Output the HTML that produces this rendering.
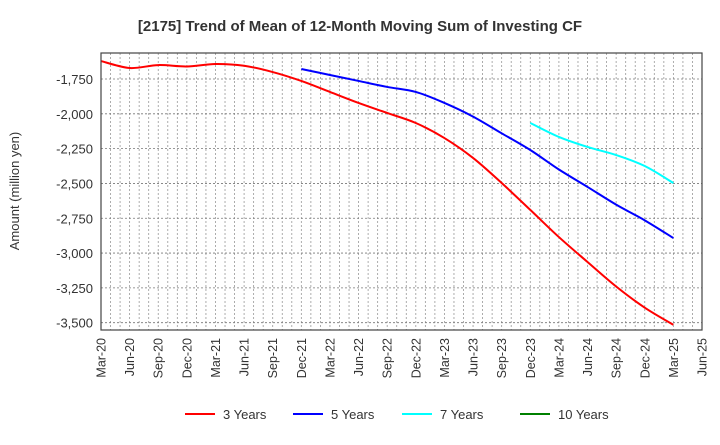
<!DOCTYPE html>
<html><head><meta charset="utf-8"><style>
body{margin:0;background:#fff;font-family:"Liberation Sans",sans-serif}
</style></head><body>
<svg id="c" width="720" height="440" xmlns="http://www.w3.org/2000/svg" font-family="Liberation Sans, sans-serif">
<text x="360" y="31" text-anchor="middle" font-size="15" font-weight="bold" fill="#333">[2175]  Trend of Mean of 12-Month Moving Sum of Investing CF</text>
<text transform="translate(19,191) rotate(-90)" text-anchor="middle" font-size="13" fill="#333">Amount (million yen)</text>
<g id="grid"></g><g id="series"></g><g id="axes"></g><g id="legend"></g>
</svg>
<script>
const xLabels=["Mar-20","Jun-20","Sep-20","Dec-20","Mar-21","Jun-21","Sep-21","Dec-21","Mar-22","Jun-22","Sep-22","Dec-22","Mar-23","Jun-23","Sep-23","Dec-23","Mar-24","Jun-24","Sep-24","Dec-24","Mar-25","Jun-25"];
const yTicks=[-1750,-2000,-2250,-2500,-2750,-3000,-3250,-3500];
const y3=[-1621,-1671,-1650,-1660,-1642,-1655,-1700,-1764,-1843,-1922,-1994,-2066,-2174,-2317,-2497,-2690,-2885,-3064,-3240,-3392,-3515];
const y5=[null,null,null,null,null,null,null,-1678,-1721,-1764,-1807,-1843,-1922,-2020,-2140,-2260,-2400,-2525,-2652,-2765,-2892];
const y7=[null,null,null,null,null,null,null,null,null,null,null,null,null,null,null,-2066,-2166,-2238,-2296,-2375,-2497];
const y10=[];
const seriesNames=["3 Years","5 Years","7 Years","10 Years"];
const colors=["#ff0000","#0000ff","#00ffff","#008000"];
const L=101,R=702,T=53,B=330;
const xs=q=>L+q*(R-L)/(xLabels.length-1);
const ys=v=>79+(-1750-v)*0.13926;
const NS="http://www.w3.org/2000/svg";
function mk(tag,attrs,parent){const e=document.createElementNS(NS,tag);for(const k in attrs)e.setAttribute(k,attrs[k]);parent.appendChild(e);return e;}
const grid=document.getElementById('grid'),axes=document.getElementById('axes'),ser=document.getElementById('series'),leg=document.getElementById('legend');
for(let m=1;m<(xLabels.length-1)*3;m++){const x=L+m*(R-L)/((xLabels.length-1)*3);
const g=mk('line',{x1:x,x2:x,y1:T,y2:B,stroke:'#999','stroke-dasharray':'2,2','stroke-width':0.8},grid);

}
yTicks.forEach(v=>{const y=ys(v);
const g=mk('line',{x1:L,x2:R,y1:y,y2:y,stroke:'#777','stroke-dasharray':'2,2','stroke-width':0.8},grid);


const t=mk('text',{x:93,y:y+5,'text-anchor':'end','font-size':13,fill:'#333'},axes);t.textContent=v.toLocaleString('en-US');

});
xLabels.forEach((lb,i)=>{const x=xs(i);
const t=mk('text',{transform:`translate(${x+4.5},338) rotate(-90)`,'text-anchor':'end','font-size':12.5,fill:'#333'},axes);t.textContent=lb;

});
const fr=mk('rect',{x:L,y:T,width:R-L,height:B-T,fill:'none',stroke:'#444','stroke-width':1.2},axes);


function path(data){const p=[];data.forEach((v,i)=>{if(v!=null)p.push([xs(i),ys(v)]);});
if(!p.length)return '';let d=`M${p[0][0]},${p[0][1]}`;
for(let i=0;i<p.length-1;i++){const p0=p[i-1]||p[i],p1=p[i],p2=p[i+1],p3=p[i+2]||p2;
d+=` C${p1[0]+(p2[0]-p0[0])/6},${p1[1]+(p2[1]-p0[1])/6} ${p2[0]-(p3[0]-p1[0])/6},${p2[1]-(p3[1]-p1[1])/6} ${p2[0]},${p2[1]}`;}return d;}
[y3,y5,y7,y10].forEach((s,k)=>{const d=path(s);if(!d)return;
const e=mk('path',{d:d,fill:'none',stroke:colors[k],'stroke-width':2},ser);

});
const lx=[185,293,402,520];
seriesNames.forEach((n,k)=>{
const l=mk('line',{x1:lx[k],x2:lx[k]+30,y1:414,y2:414,stroke:colors[k],'stroke-width':2},leg);


const t=mk('text',{x:lx[k]+38,y:419,'font-size':13,fill:'#333'},leg);t.textContent=n;

});
</script>
</body></html>
